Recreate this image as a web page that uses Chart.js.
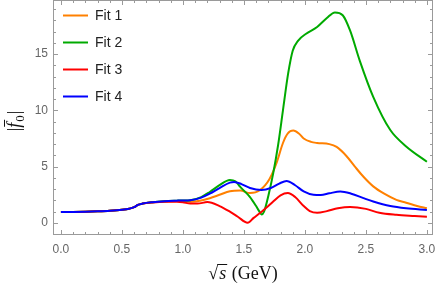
<!DOCTYPE html>
<html>
<head>
<meta charset="utf-8">
<script src="https://cdn.jsdelivr.net/npm/chart.js"></script>
<style>
  html, body { margin: 0; padding: 0; background: #fff; }
</style>
</head>
<body>
<canvas id="fitChart" width="435" height="291"></canvas>
<script>
// values (sqrt(s) in GeV, |f0| )
const fit1X = [0, 0.1, 0.2, 0.3, 0.4, 0.5, 0.56, 0.6, 0.63, 0.67, 0.75, 0.85, 0.95, 1.0, 1.06, 1.14, 1.22, 1.3, 1.385, 1.47, 1.55, 1.63, 1.71, 1.77, 1.82, 1.86, 1.905, 1.95, 1.99, 2.05, 2.1, 2.2, 2.26, 2.34, 2.41, 2.48, 2.56, 2.65, 2.75, 2.83, 2.92, 3.0];
const fit1Y = [0.97, 0.98, 1.0, 1.03, 1.08, 1.17, 1.27, 1.4, 1.6, 1.72, 1.83, 1.9, 1.94, 1.93, 1.88, 1.98, 2.2, 2.5, 2.82, 2.88, 2.65, 2.9, 3.9, 5.4, 7.1, 7.95, 8.2, 7.95, 7.5, 7.2, 7.1, 7.0, 6.75, 5.95, 5.0, 4.1, 3.25, 2.6, 2.05, 1.8, 1.5, 1.3];

const fit2X = [0, 0.1, 0.2, 0.3, 0.4, 0.5, 0.56, 0.6, 0.63, 0.67, 0.75, 0.85, 0.95, 1.0, 1.06, 1.15, 1.22, 1.3, 1.385, 1.43, 1.47, 1.55, 1.6, 1.625, 1.645, 1.665, 1.7, 1.74, 1.78, 1.82, 1.863, 1.9, 1.945, 2.01, 2.1, 2.18, 2.246, 2.31, 2.37, 2.45, 2.56, 2.7, 2.83, 3.0];
const fit2Y = [0.97, 0.98, 1.0, 1.03, 1.08, 1.17, 1.27, 1.4, 1.6, 1.72, 1.84, 1.93, 1.98, 2.0, 2.02, 2.3, 2.75, 3.35, 3.82, 3.7, 3.2, 2.3, 1.5, 1.05, 0.75, 1.0, 2.4, 4.4, 6.9, 10.0, 13.3, 15.3, 16.2, 16.8, 17.4, 18.2, 18.7, 18.45, 17.1, 14.4, 11.2, 8.25, 6.8, 5.44];

const fit3X = [0, 0.1, 0.2, 0.3, 0.4, 0.5, 0.56, 0.6, 0.63, 0.67, 0.75, 0.85, 0.95, 1.0, 1.06, 1.12, 1.2, 1.3, 1.385, 1.45, 1.53, 1.58, 1.645, 1.7, 1.74, 1.8, 1.86, 1.92, 1.99, 2.04, 2.1, 2.18, 2.27, 2.37, 2.5, 2.61, 2.75, 2.9, 3.0];
const fit3Y = [0.97, 0.98, 1.0, 1.03, 1.08, 1.17, 1.27, 1.4, 1.6, 1.72, 1.82, 1.88, 1.88, 1.84, 1.72, 1.72, 1.85, 1.5, 1.0, 0.55, 0.02, 0.45, 1.0, 1.5, 1.9, 2.45, 2.65, 2.3, 1.5, 1.05, 0.9, 1.05, 1.3, 1.42, 1.25, 0.9, 0.72, 0.62, 0.56];

const fit4X = [0, 0.1, 0.2, 0.3, 0.4, 0.5, 0.56, 0.6, 0.63, 0.67, 0.75, 0.85, 0.95, 1.0, 1.06, 1.15, 1.22, 1.3, 1.385, 1.42, 1.48, 1.55, 1.645, 1.72, 1.79, 1.85, 1.92, 1.99, 2.07, 2.13, 2.2, 2.29, 2.38, 2.48, 2.56, 2.7, 2.83, 3.0];
const fit4Y = [0.97, 0.98, 1.0, 1.03, 1.08, 1.17, 1.27, 1.4, 1.6, 1.72, 1.84, 1.93, 1.98, 2.0, 2.02, 2.25, 2.6, 3.1, 3.58, 3.64, 3.45, 3.1, 2.93, 3.1, 3.5, 3.73, 3.35, 2.8, 2.5, 2.48, 2.63, 2.8, 2.6, 2.2, 1.9, 1.5, 1.3, 1.15];

const seriesNames = ['Fit 1', 'Fit 2', 'Fit 3', 'Fit 4'];
const seriesColors = ['#ff8000', '#00aa00', '#ff0000', '#0000ff'];

const xTickValues = [0, 0.5, 1.0, 1.5, 2.0, 2.5, 3.0];
const yTickValues = [0, 5, 10, 15];

const toPoints = (xs, ys) => xs.map((x, i) => ({ x, y: ys[i] }));
const allX = [fit1X, fit2X, fit3X, fit4X];
const allY = [fit1Y, fit2Y, fit3Y, fit4Y];

// frame with inward ticks on all four sides, like the original
const framePlugin = {
  id: 'frame',
  beforeDatasetsDraw(chart) {
    const { ctx, chartArea: a, scales: { x, y } } = chart;
    ctx.save();
    ctx.strokeStyle = '#9a9a9a';
    ctx.lineWidth = 1;
    ctx.strokeRect(a.left + 0.5, a.top + 0.5, a.right - a.left - 1, a.bottom - a.top - 1);
    ctx.beginPath();
    for (let k = 0; k <= 30; k++) {
      const px = Math.round(x.getPixelForValue(k / 10)) + 0.5;
      const len = k % 5 === 0 ? 5 : 3;
      ctx.moveTo(px, a.bottom); ctx.lineTo(px, a.bottom - len);
      ctx.moveTo(px, a.top); ctx.lineTo(px, a.top + len);
    }
    for (let v = -1; v <= 19; v++) {
      const py = Math.round(y.getPixelForValue(v)) + 0.5;
      if (py < a.top + 1 || py > a.bottom - 1) continue;
      const len = v % 5 === 0 ? 5 : 3;
      ctx.moveTo(a.left, py); ctx.lineTo(a.left + len, py);
      ctx.moveTo(a.right, py); ctx.lineTo(a.right - len, py);
    }
    ctx.stroke();
    ctx.restore();
  },
  afterDraw(chart) {
    const { ctx } = chart;
    ctx.save();
    // legend
    ctx.font = '14px "Liberation Sans", Arial, sans-serif';
    ctx.textBaseline = 'middle';
    chart.data.datasets.forEach((ds, i) => {
      const ly = 15.5 + i * 27;
      ctx.strokeStyle = ds.borderColor;
      ctx.lineWidth = 2;
      ctx.beginPath();
      ctx.moveTo(63, ly); ctx.lineTo(88, ly);
      ctx.stroke();
      ctx.fillStyle = '#222';
      ctx.fillText(ds.label, 95, ly + 1);
    });

    // x axis title: sqrt(s) (GeV)
    const serif = '"Liberation Serif", "DejaVu Serif", serif';
    ctx.fillStyle = '#111';
    ctx.textBaseline = 'alphabetic';
    const base = 279;
    ctx.font = '18px ' + serif;
    const wRoot = ctx.measureText('√').width;
    const wRest = ctx.measureText(' (GeV)').width;
    ctx.font = 'italic 18px ' + serif;
    const wS = ctx.measureText('s').width + 2;
    const total = wRoot + wS + wRest;
    let cx = 243 - total / 2;
    ctx.font = '18px ' + serif;
    ctx.fillText('√', cx, base);
    ctx.strokeStyle = '#111';
    ctx.lineWidth = 1;
    ctx.beginPath();
    ctx.moveTo(cx + wRoot - 1, base - 14.5); ctx.lineTo(cx + wRoot + wS, base - 14.5);
    ctx.stroke();
    cx += wRoot;
    ctx.font = 'italic 18px ' + serif;
    ctx.fillText('s', cx + 1, base);
    cx += wS;
    ctx.font = '18px ' + serif;
    ctx.fillText(' (GeV)', cx, base);

    // y axis title: |f0| with bar
    ctx.translate(20, 121);
    ctx.rotate(-Math.PI / 2);
    ctx.font = '18px ' + serif;
    const wBar = ctx.measureText('|').width;
    ctx.font = 'italic 18px ' + serif;
    const wF = ctx.measureText('f').width;
    ctx.font = '13px ' + serif;
    const wSub = ctx.measureText('0').width;
    const tw = wBar * 2 + wF + wSub + 2;
    let tx = -tw / 2;
    ctx.font = '18px ' + serif;
    ctx.fillText('|', tx, 0);
    tx += wBar;
    ctx.font = 'italic 18px ' + serif;
    ctx.fillText('f', tx, 0);
    ctx.beginPath();
    ctx.moveTo(tx + 1, -15.5); ctx.lineTo(tx + wF + 3, -15.5);
    ctx.stroke();
    tx += wF + 1;
    ctx.font = '13px ' + serif;
    ctx.fillText('0', tx, 4);
    tx += wSub + 1;
    ctx.font = '18px ' + serif;
    ctx.fillText('|', tx, 0);
    ctx.restore();
  }
};

const ctx = document.getElementById('fitChart').getContext('2d');
const chart = new Chart(ctx, {
  type: 'line',
  data: {
    datasets: seriesNames.map((name, i) => ({
      label: name,
      data: toPoints(allX[i], allY[i]),
      borderColor: seriesColors[i],
      borderWidth: 2,
      pointRadius: 0,
      fill: false,
      cubicInterpolationMode: 'monotone',
      order: 3 - i
    }))
  },
  options: {
    responsive: false,
    animation: false,
    events: [],
    layout: { padding: { top: 0, right: 2, left: 0, bottom: 0 } },
    plugins: { legend: { display: false }, tooltip: { enabled: false } },
    scales: {
      x: {
        type: 'linear',
        min: -0.065,
        max: 3.05,
        grid: { display: false, drawTicks: false },
        border: { display: false },
        afterBuildTicks: s => { s.ticks = xTickValues.map(v => ({ value: v })); },
        afterFit: s => { s.height = 56; s.paddingLeft = 0; s.paddingRight = 0; },
        ticks: {
          padding: 7,
          color: '#666',
          font: { family: '"Liberation Sans", Arial, sans-serif', size: 12 },
          maxRotation: 0,
          callback: v => Number(v).toFixed(1)
        }
      },
      y: {
        min: -1.07,
        max: 19.8,
        grid: { display: false, drawTicks: false },
        border: { display: false },
        afterBuildTicks: s => { s.ticks = yTickValues.map(v => ({ value: v })); },
        afterFit: s => { s.width = 53; s.paddingTop = 0; s.paddingBottom = 0; },
        ticks: {
          padding: 5,
          color: '#666',
          font: { family: '"Liberation Sans", Arial, sans-serif', size: 12 }
        }
      }
    }
  },
  plugins: [framePlugin]
});
</script>
</body>
</html>
